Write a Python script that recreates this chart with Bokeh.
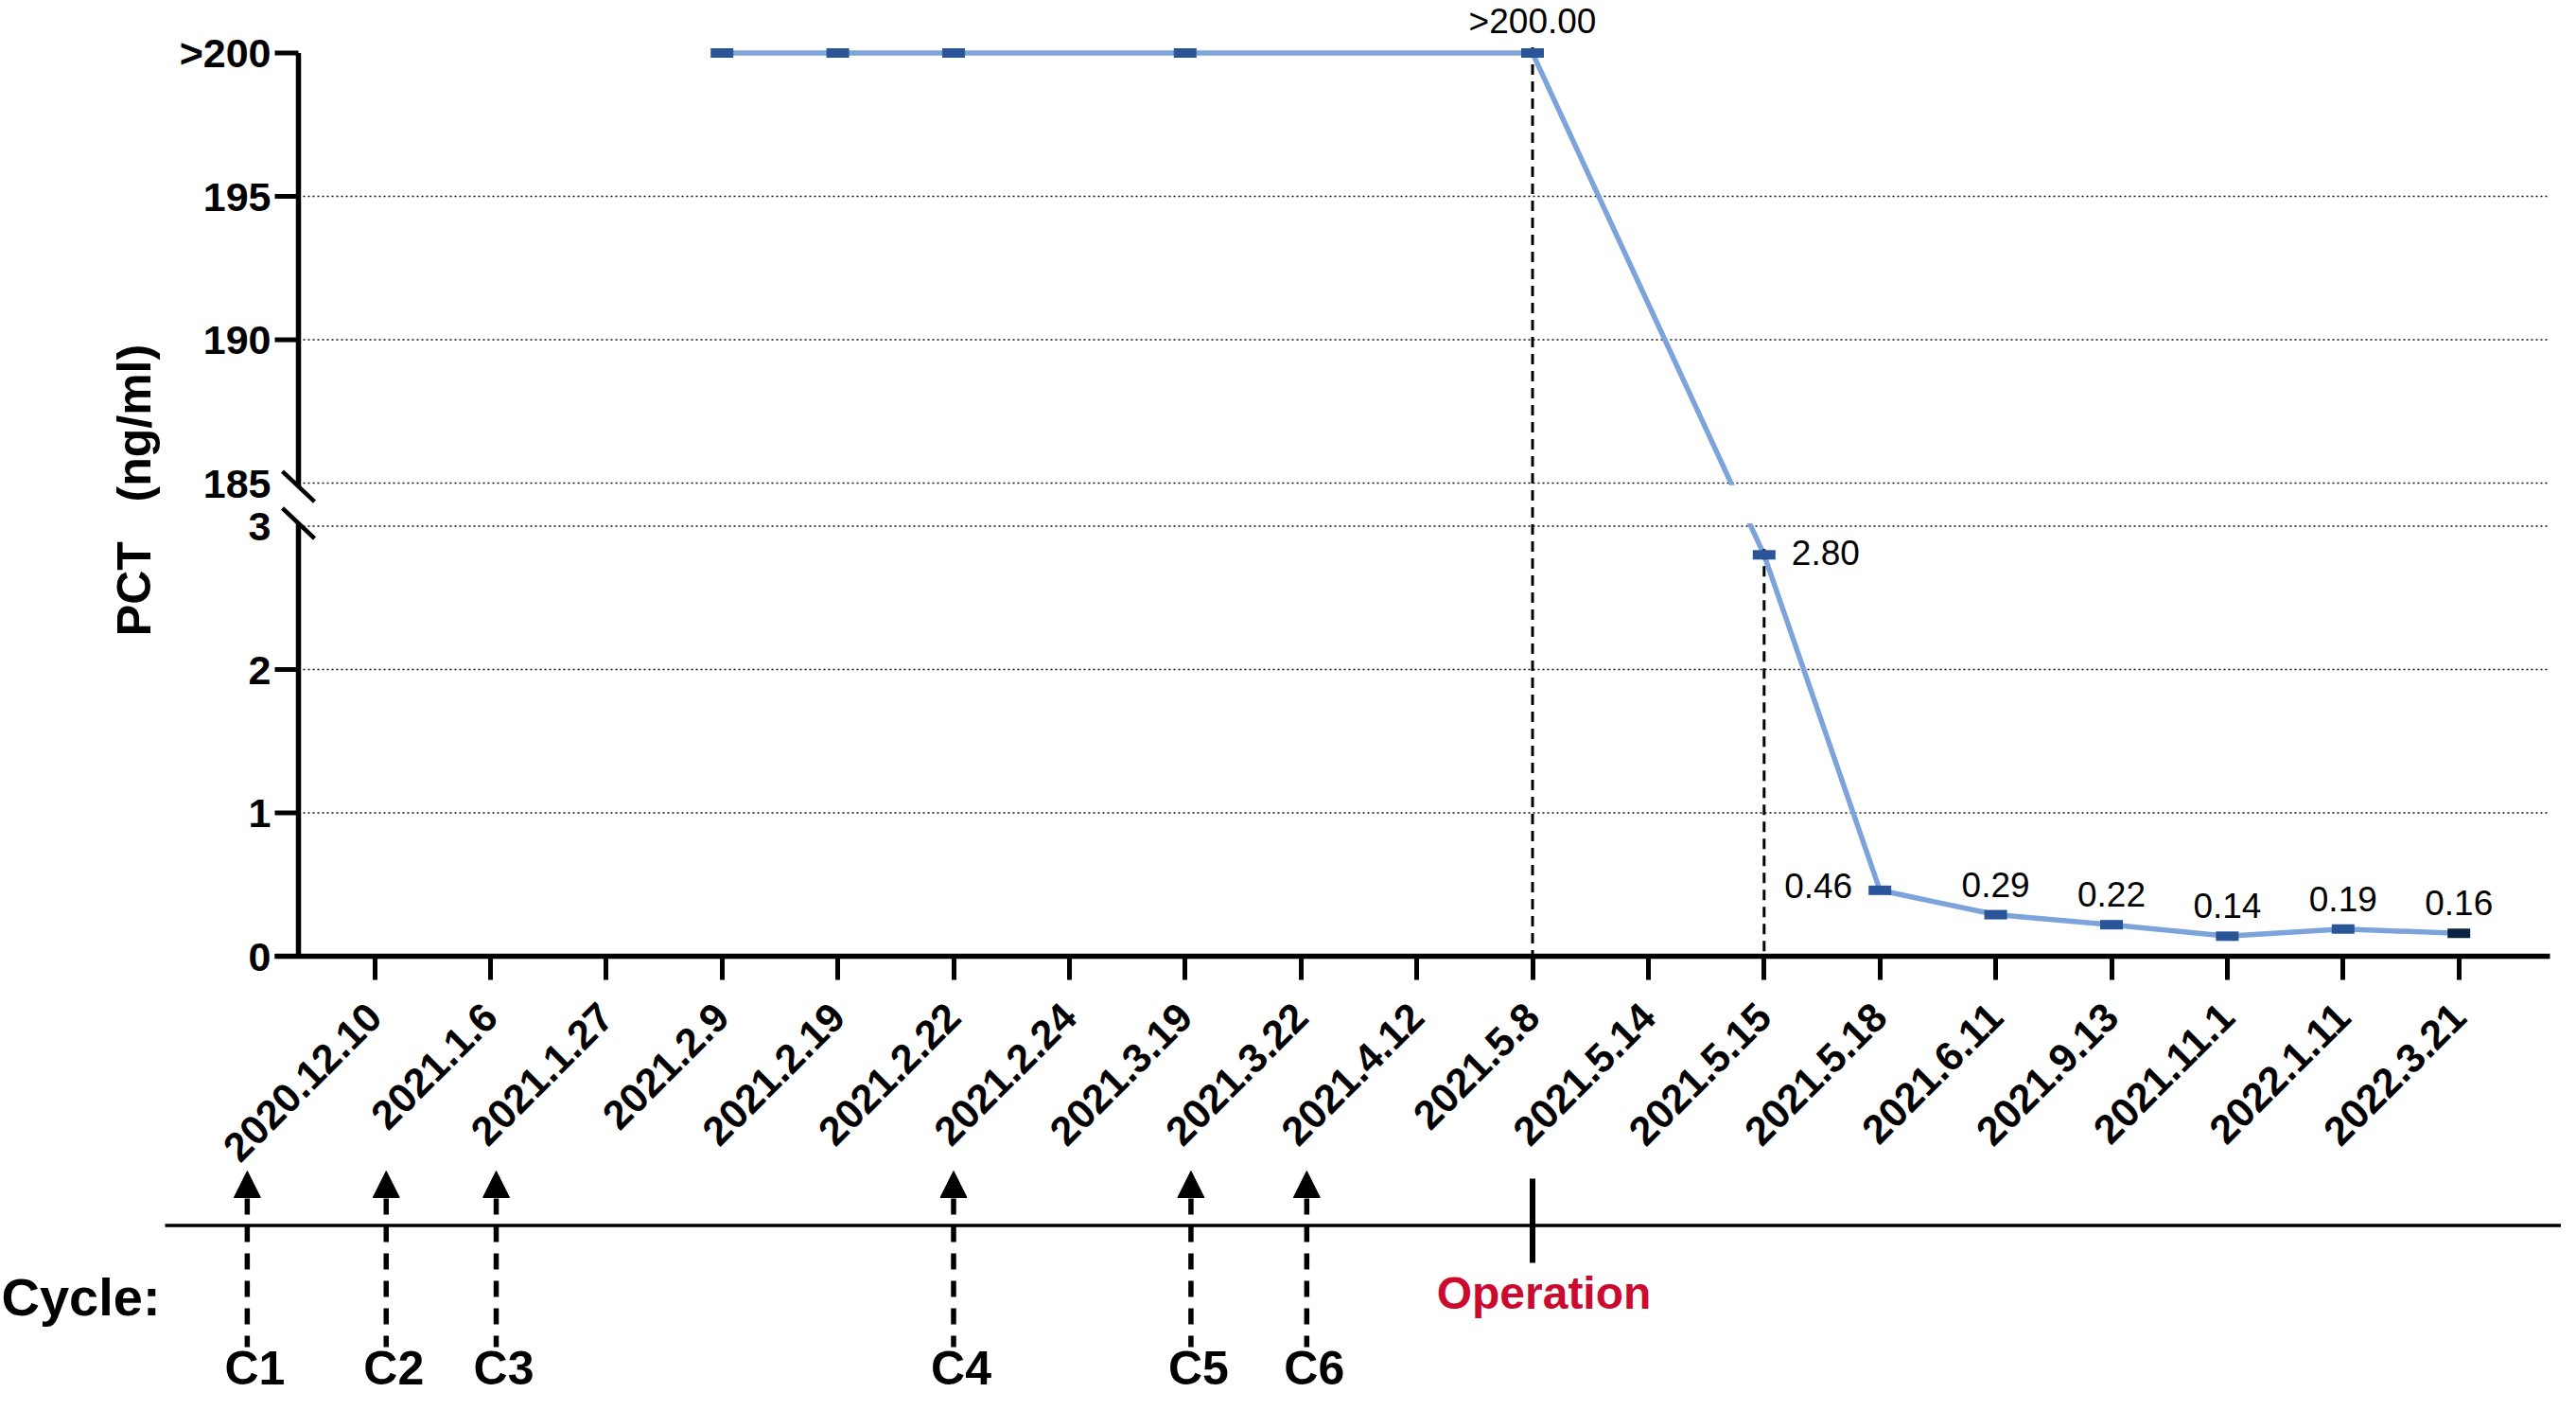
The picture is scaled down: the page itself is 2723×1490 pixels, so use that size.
import math
from bokeh.plotting import figure
from bokeh.models import (Range1d, FixedTicker, ColumnDataSource, Arrow,
                          NormalHead)
from bokeh.core.properties import value
from bokeh.embed import file_html
from bokeh.resources import INLINE

# ---------------- data ----------------
dates = ["2020.12.10", "2021.1.6", "2021.1.27", "2021.2.9", "2021.2.19",
         "2021.2.22", "2021.2.24", "2021.3.19", "2021.3.22", "2021.4.12",
         "2021.5.8", "2021.5.14", "2021.5.15", "2021.5.18", "2021.6.11",
         "2021.9.13", "2021.11.1", "2022.1.11", "2022.3.21"]

pct_dates = ["2021.2.9", "2021.2.19", "2021.2.22", "2021.3.19", "2021.5.8",
             "2021.5.15", "2021.5.18", "2021.6.11", "2021.9.13", "2021.11.1",
             "2022.1.11", "2022.3.21"]
pct_values = [200, 200, 200, 200, 200, 2.80, 0.46, 0.29, 0.22, 0.14, 0.19, 0.16]

labelled_dates = ["2021.5.8", "2021.5.15", "2021.5.18", "2021.6.11",
                  "2021.9.13", "2021.11.1", "2022.1.11", "2022.3.21"]
dashed_dates = ["2021.5.8", "2021.5.15"]
operation_date = "2021.5.8"

cycle_names = ["C1", "C2", "C3", "C4", "C5", "C6"]
cycle_pos = [-1.1, 0.1, 1.05, 5.0, 7.05, 8.05]   # in date-category units

lower_ticks = [0, 1, 2, 3]
upper_ticks = [185, 190, 195, 200]
upper_tick_labels = ["185", "190", "195", ">200"]
y_title = "PCT\u00a0\u00a0\u00a0(ng/ml)"

# ---------------- broken-axis transform ----------------
LOW_MAX, BREAK_GAP, UP_MIN, UP_STEP = 3, 0.3, 185, 5


def yt(v):
    if v <= LOW_MAX:
        return round(float(v), 6)
    return round(LOW_MAX + BREAK_GAP + (v - UP_MIN) / UP_STEP, 6)


# ---------------- geometry (pixel layout of the canvas) ----------------
W, H = 2707, 1474
PXX, PXY = 122.4, 151.5          # px per category / per y unit
CX0, CY0 = 395.5, 1010.0         # pixel of category 0 / of y = 0


def px_x(X):
    return (X - CX0) / PXX


def px_y(Y):
    return (CY0 - Y) / PXY


def dx(px):
    return px / PXX


def dy(px):
    return px / PXY


XL = px_x(290)      # left end of the x axis line
XR = px_x(2695)     # right end of the plot area
AX = px_x(315)      # y axis line
FONT = "Liberation Sans"

p = figure(width=W, height=H, x_range=Range1d(px_x(0), px_x(W)),
           y_range=Range1d(px_y(H), px_y(0)), output_backend="svg",
           toolbar_location=None, min_border_left=0, min_border_right=0,
           min_border_top=0, min_border_bottom=0)
p.outline_line_color = None
p.xgrid.visible = False
p.ygrid.visible = False
p.background_fill_color = "white"
p.border_fill_color = "white"

# x axis
xa = p.xaxis[0]
xa.fixed_location = 0
xa.bounds = (XL, XR)
xa.ticker = FixedTicker(ticks=list(range(len(dates))))
xa.major_label_overrides = {i: d for i, d in enumerate(dates)}
xa.major_label_orientation = math.pi / 4
xa.major_label_text_font = FONT
xa.major_label_text_font_style = "bold"
xa.major_label_text_font_size = "43px"
xa.major_label_text_color = "black"
xa.major_label_standoff = 32
xa.axis_line_width = 5.5
xa.axis_line_color = "black"
xa.major_tick_line_width = 5
xa.major_tick_line_color = "black"
xa.major_tick_out = 25
xa.major_tick_in = 0
xa.minor_tick_line_color = None

# y axis (labels only; line & ticks drawn separately to show the break)
y_ticks = [yt(v) for v in lower_ticks + upper_ticks]
y_labels = [str(v) for v in lower_ticks] + upper_tick_labels
ya = p.yaxis[0]
ya.fixed_location = AX
ya.bounds = (0, yt(upper_ticks[-1]) + 0.2)
ya.ticker = FixedTicker(ticks=y_ticks)
ya.major_label_overrides = dict(zip(y_ticks, y_labels))
ya.major_label_text_font = FONT
ya.major_label_text_font_style = "bold"
ya.major_label_text_font_size = "43px"
ya.major_label_text_color = "black"
ya.major_label_standoff = 29
ya.axis_line_color = None
ya.major_tick_line_color = None
ya.major_tick_out = 0
ya.major_tick_in = 0
ya.minor_tick_line_color = None
ya.axis_label = y_title
ya.axis_label_text_font = FONT
ya.axis_label_text_font_style = "bold"
ya.axis_label_text_font_size = "50px"
ya.axis_label_text_color = "black"
ya.axis_label_standoff = 17

# dotted grid lines
grid_vals = [yt(v) for v in lower_ticks[1:] + upper_ticks[:-1]]
p.segment(x0=[AX] * len(grid_vals), x1=[XR] * len(grid_vals), y0=grid_vals,
          y1=grid_vals, line_color="#111111", line_width=1.6, line_dash="2 3")

# data line
xs = [dates.index(d) for d in pct_dates]
ys = [yt(v) for v in pct_values]
p.line(xs, ys, line_color="#7DA4DA", line_width=5.5)

# mask the line across the axis break
p.quad(left=AX, right=XR, bottom=LOW_MAX + 0.02, top=LOW_MAX + BREAK_GAP - 0.015,
       fill_color="white", line_color=None)

# vertical dashed reference lines
dxs = [dates.index(d) for d in dashed_dates]
dtop = [yt(pct_values[pct_dates.index(d)]) + dy(6) for d in dashed_dates]
p.segment(x0=dxs, x1=dxs, y0=dtop, y1=[0] * len(dxs), line_color="black",
          line_width=3, line_dash="11 7")

# markers
mcolors = ["#2A5699"] * (len(xs) - 1) + ["#0B2343"]
p.rect(x=xs, y=ys, width=24, height=10, width_units="screen",
       height_units="screen", fill_color=mcolors, line_color=None)

# y axis line with break, ticks and break marks
p.segment(x0=[AX, AX], x1=[AX, AX], y0=[0, LOW_MAX + BREAK_GAP - dy(3.5)],
          y1=[LOW_MAX + dy(3), yt(upper_ticks[-1])], line_color="black",
          line_width=5.5)
tick_vals = [yt(v) for v in lower_ticks[:-1] + upper_ticks[1:]]
p.segment(x0=[AX] * len(tick_vals), x1=[XL] * len(tick_vals), y0=tick_vals,
          y1=tick_vals, line_color="black", line_width=5)
slash_c = [LOW_MAX + BREAK_GAP - dy(3.5), LOW_MAX + dy(3)]
p.segment(x0=[AX - dx(17)] * 2, x1=[AX + dx(17)] * 2,
          y0=[c + dy(16) for c in slash_c], y1=[c - dy(16) for c in slash_c],
          line_color="black", line_width=4.5)


# value labels (text anchored at its middle)
def fmt(v):
    return ">%.2f" % v if v >= upper_ticks[-1] else "%.2f" % v


side_style = {"2021.5.15": "right", "2021.5.18": "left"}
groups = {k: {"x": [], "y": [], "t": [], "off": []} for k in ("above", "right", "left")}
for d in labelled_dates:
    i = pct_dates.index(d)
    g = groups[side_style.get(d, "above")]
    g["x"].append(dates.index(d))
    g["y"].append(yt(pct_values[i]))
    g["t"].append(fmt(pct_values[i]))
    g["off"].append(-34 if pct_values[i] >= upper_ticks[-1] else -32)

common = dict(text_font=value(FONT), text_font_size="37px", text_color="black",
              text_baseline="middle")
ga = groups["above"]
p.text(x="x", y="y", text="t", y_offset="off",
       source=ColumnDataSource(dict(x=ga["x"], y=ga["y"], t=ga["t"], off=ga["off"])),
       text_align="center", **common)
gr = groups["right"]
p.text(x=gr["x"], y=gr["y"], text=gr["t"], x_offset=29, y_offset=-2,
       text_align="left", **common)
gl = groups["left"]
p.text(x=gl["x"], y=gl["y"], text=gl["t"], x_offset=-29, y_offset=-5,
       text_align="right", **common)

# ---------------- cycle / operation strip below the axis ----------------
y_hline = px_y(1294.5)
p.segment(x0=[px_x(174)], x1=[px_x(W + 10)], y0=[y_hline], y1=[y_hline],
          line_color="black", line_width=3.5)

op_x = dates.index(operation_date)
p.segment(x0=[op_x], x1=[op_x], y0=[px_y(1245)], y1=[px_y(1334)],
          line_color="black", line_width=6)
p.text(x=[op_x], y=[px_y(1366)], text=["Operation"], x_offset=12,
       text_align="center", text_baseline="middle", text_font=value(FONT),
       text_font_style="bold", text_font_size="48px", text_color="#CC0A2F")

for cx in cycle_pos:
    p.add_layout(Arrow(start=NormalHead(size=28, fill_color="black",
                                        line_color="black", line_width=1),
                       end=None, x_start=cx, y_start=px_y(1237),
                       x_end=cx, y_end=px_y(1423), line_color="black",
                       line_width=5.5, line_dash="17 12"))
p.text(x=cycle_pos, y=[px_y(1445)] * len(cycle_pos), text=cycle_names,
       x_offset=8, text_align="center", text_baseline="middle",
       text_font=value(FONT), text_font_style="bold", text_font_size="50px",
       text_color="black")

p.text(x=[px_x(1)], y=[px_y(1370)], text=["Cycle:"], text_align="left",
       text_baseline="middle", text_font=value(FONT),
       text_font_style="bold", text_font_size="56px", text_color="black")

open("out.html", "w").write(file_html(p, INLINE))
